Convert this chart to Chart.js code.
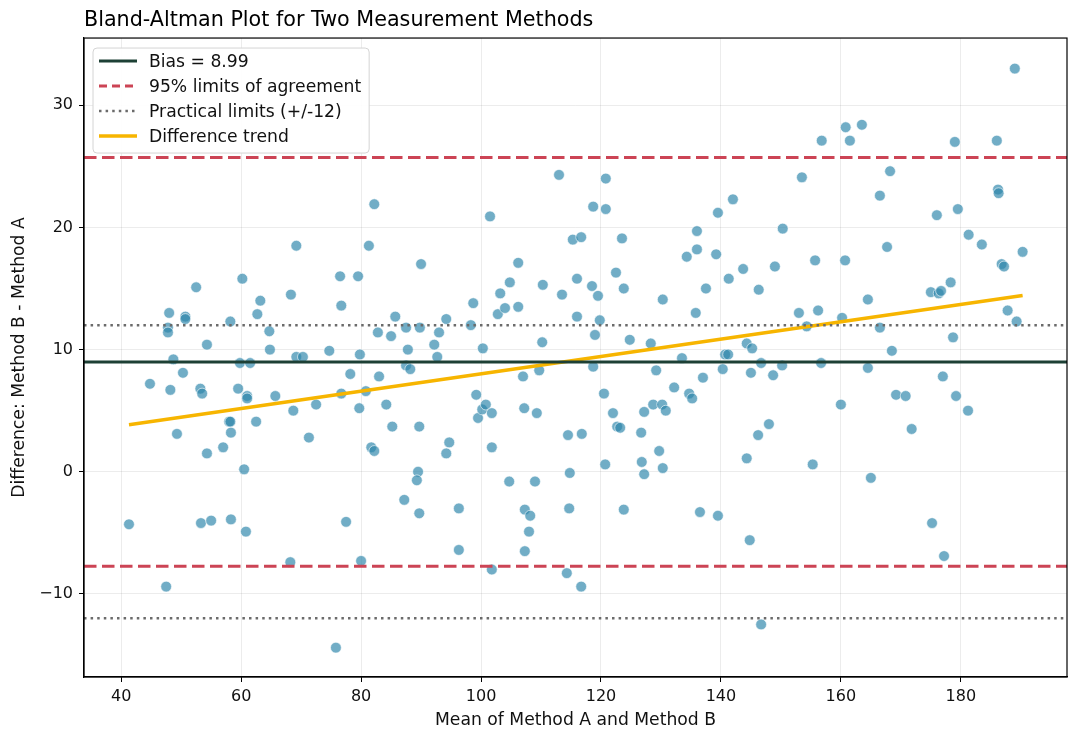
<!DOCTYPE html>
<html>
<head>
<meta charset="utf-8">
<script src="https://cdn.jsdelivr.net/npm/chart.js@4.4.1/dist/chart.umd.min.js"></script>
<style>
  html, body { margin: 0; padding: 0; background: #fff; }
  #wrap { width: 1080px; height: 742px; }
</style>
</head>
<body>
<div id="wrap"><canvas id="baChart" width="1080" height="742"></canvas></div>
<script>
// Mean of the two methods (x) and difference B - A (y)
const means = [
  41.3, 44.8, 47.5, 48.0, 47.8, 47.8, 48.2, 48.7, 49.3, 50.3,
  50.7, 50.7, 52.5, 53.2, 53.5, 53.3, 54.3, 54.3, 55.0, 57.0,
  58.0, 58.2, 58.2, 58.3, 58.3, 59.5, 59.8, 60.2, 60.5, 60.8,
  61.0, 61.0, 61.5, 62.5, 62.7, 63.2, 64.7, 64.8, 65.7, 68.2,
  68.3, 68.7, 69.2, 69.2, 70.3, 71.3, 72.5, 74.7, 76.5, 76.7,
  76.7, 75.8, 77.5, 78.2, 79.5, 79.8, 79.7, 80.0, 80.8, 81.3,
  81.7, 82.2, 82.2, 82.8, 83.0, 84.2, 85.2, 85.0, 85.7, 87.2,
  87.5, 87.5, 87.8, 88.2, 89.8, 89.5, 89.3, 90.0, 89.7, 89.7,
  92.2, 93.0, 92.7, 94.2, 94.2, 94.7, 96.3, 96.3, 98.3, 98.7,
  99.2, 99.5, 100.2, 100.3, 100.8, 101.8, 101.5, 101.8, 101.8, 102.8,
  103.2, 104.0, 104.7, 104.8, 106.2, 106.2, 107.0, 107.2, 107.3, 107.3,
  108.2, 108.0, 109.0, 109.3, 109.7, 110.2, 110.3, 113.0, 113.5, 114.3,
  114.7, 114.5, 114.8, 115.3, 116.0, 116.0, 116.7, 116.8, 116.7, 118.7,
  118.7, 118.5, 119.0, 119.5, 119.8, 120.5, 120.7, 120.8, 120.8, 122.0,
  122.5, 122.7, 123.2, 123.5, 123.8, 123.8, 124.8, 126.7, 126.8, 127.2,
  127.2, 128.3, 128.7, 129.2, 129.7, 130.2, 130.3, 130.3, 130.8, 132.2,
  133.5, 134.3, 134.7, 135.2, 135.8, 136.0, 136.0, 136.5, 137.0, 137.5,
  139.2, 139.5, 139.5, 140.3, 140.7, 141.2, 141.3, 142.0, 143.7, 144.3,
  144.3, 144.8, 145.0, 145.2, 146.2, 146.3, 146.7, 146.7, 148.0, 148.7,
  149.0, 150.2, 150.3, 153.0, 153.5, 154.3, 155.3, 155.7, 156.2, 156.8,
  156.7, 160.0, 160.2, 160.7, 160.8, 161.5, 163.5, 164.5, 164.5, 165.0,
  166.5, 166.5, 167.7, 168.2, 168.5, 169.2, 170.8, 171.8, 175.2, 175.0,
  176.0, 176.3, 176.7, 177.0, 177.2, 178.3, 178.7, 179.0, 179.2, 179.5,
  181.2, 181.3, 183.5, 186.0, 186.2, 186.3, 186.8, 187.2, 187.8, 189.0,
  189.3, 190.3
];
const diffs = [
  -4.3, 7.2, -9.4, 13.0, 11.8, 11.4, 6.7, 9.2, 3.1, 8.1,
  12.7, 12.5, 15.1, 6.8, 6.4, -4.2, 1.5, 10.4, -4.0, 2.0,
  4.1, 12.3, 4.1, 3.2, -3.9, 6.8, 8.9, 15.8, 0.2, -4.9,
  6.2, 6.0, 8.9, 4.1, 12.9, 14.0, 11.5, 10.0, 6.2, -7.4,
  14.5, 5.0, 9.4, 18.5, 9.4, 2.8, 5.5, 9.9, 16.0, 13.6,
  6.4, -14.4, -4.1, 8.0, 16.0, 9.6, 5.2, -7.3, 6.6, 18.5,
  2.0, 21.9, 1.7, 11.4, 7.8, 5.5, 3.7, 11.1, 12.7, -2.3,
  11.8, 8.7, 10.0, 8.4, 11.8, 0.0, -0.7, 17.0, 3.7, -3.4,
  10.4, 11.4, 9.4, 12.5, 1.5, 2.4, -3.0, -6.4, 12.0, 13.8,
  6.3, 4.4, 5.1, 10.1, 5.5, 4.8, 20.9, 2.0, -8.0, 12.9,
  14.6, 13.4, -0.8, 15.5, 13.5, 17.1, 7.8, 5.2, -3.1, -6.5,
  -3.6, -4.9, -0.8, 4.8, 8.3, 10.6, 15.3, 24.3, 14.5, -8.3,
  -3.0, 3.0, -0.1, 19.0, 12.7, 15.8, 19.2, 3.1, -9.4, 21.7,
  8.6, 15.2, 11.2, 14.4, 12.4, 6.4, 0.6, 24.0, 21.5, 4.8,
  16.3, 3.7, 3.6, 19.1, 15.0, -3.1, 10.8, 3.2, 0.8, -0.2,
  4.9, 10.5, 5.5, 8.3, 1.7, 5.5, 0.3, 14.1, 5.0, 6.9,
  9.3, 17.6, 6.4, 6.0, 13.0, 18.2, 19.7, -3.3, 7.7, 15.0,
  17.8, -3.6, 21.2, 8.4, 9.6, 9.6, 15.8, 22.3, 16.6, 1.1,
  10.5, -5.6, 8.1, 10.1, 3.0, 14.9, 8.9, -12.5, 3.9, 7.9,
  16.8, 8.7, 19.9, 13.0, 24.1, 11.9, 0.6, 17.3, 13.2, 27.1,
  8.9, 5.5, 12.6, 17.3, 28.2, 27.1, 28.4, 14.1, 8.5, -0.5,
  22.6, 11.8, 18.4, 24.6, 9.9, 6.3, 6.2, 3.5, -4.2, 14.7,
  21.0, 14.6, 14.8, 7.8, -6.9, 15.5, 11.0, 27.0, 6.2, 21.5,
  5.0, 19.4, 18.6, 27.1, 23.1, 22.8, 17.0, 16.8, 13.2, 33.0,
  12.3, 18.0
];

// reference lines
const biasValue = 8.99;
const loaValues = [25.72, -7.74];
const practicalValues = [12, -12];
const trendX = [41.3, 190.3];
const trendY = [3.85, 14.43];

const seriesLabels = ['Bias = 8.99', '95% limits of agreement', 'Practical limits (+/-12)', 'Difference trend'];
const xRange = [33.8, 197.7];
const yRange = [-16.8, 35.5];

const FONT = "'DejaVu Sans', 'Liberation Sans', sans-serif";
const colBias = '#1d4035';
const colLoa = '#cc4455';
const colPrac = '#6b6b6b';
const colTrend = '#f7b500';

Chart.defaults.font.family = FONT;
Chart.defaults.color = '#111';

function hline(y) {
  return [{x: xRange[0], y: y}, {x: xRange[1], y: y}];
}

const lineBase = {showLine: true, pointRadius: 0, fill: false, order: 1};

const datasets = [
  {
    label: 'points',
    data: means.map((m, i) => ({x: m, y: diffs[i]})),
    backgroundColor: 'rgba(46,134,171,0.68)',
    borderColor: 'rgba(255,255,255,0.85)',
    borderWidth: 0.7,
    pointRadius: 5.4,
    order: 10
  },
  Object.assign({label: seriesLabels[0], data: hline(biasValue), borderColor: colBias, borderWidth: 3}, lineBase),
  Object.assign({label: seriesLabels[1], data: hline(loaValues[0]), borderColor: colLoa, borderWidth: 3, borderDash: [12.5, 5.5]}, lineBase),
  Object.assign({label: '', data: hline(loaValues[1]), borderColor: colLoa, borderWidth: 3, borderDash: [12.5, 5.5]}, lineBase),
  Object.assign({label: seriesLabels[2], data: hline(practicalValues[0]), borderColor: colPrac, borderWidth: 2.5, borderDash: [2.5, 4.1]}, lineBase),
  Object.assign({label: '', data: hline(practicalValues[1]), borderColor: colPrac, borderWidth: 2.5, borderDash: [2.5, 4.1]}, lineBase),
  Object.assign({label: seriesLabels[3], data: trendX.map((x, i) => ({x: x, y: trendY[i]})), borderColor: colTrend, borderWidth: 3.4}, lineBase)
];

// legend entries (style of the sample line for each label)
const legendStyles = [
  {color: colBias, width: 3, dash: []},
  {color: colLoa, width: 3, dash: [8, 5]},
  {color: colPrac, width: 2.5, dash: [2.5, 4.1]},
  {color: colTrend, width: 3.4, dash: []}
];

// frame around the plot + legend box inside the plot (top-left)
const framePlugin = {
  id: 'frameAndLegend',
  afterDraw(chart) {
    const {ctx, chartArea: a} = chart;
    ctx.save();
    ctx.strokeStyle = '#000';
    ctx.lineWidth = 1.2;
    ctx.strokeRect(a.left, a.top, a.right - a.left, a.bottom - a.top);

    ctx.font = '17.2px ' + FONT;
    let maxW = 0;
    seriesLabels.forEach(t => { maxW = Math.max(maxW, ctx.measureText(t).width); });
    const bx = a.left + 9, by = a.top + 10;
    const bw = 56 + maxW + 8, bh = 105;
    ctx.beginPath();
    ctx.roundRect(bx, by, bw, bh, 4);
    ctx.fillStyle = 'rgba(255,255,255,0.9)';
    ctx.fill();
    ctx.strokeStyle = '#d4d4d4';
    ctx.lineWidth = 1;
    ctx.stroke();

    seriesLabels.forEach((t, i) => {
      const yy = by + 13 + i * 25;
      const s = legendStyles[i];
      ctx.beginPath();
      ctx.setLineDash(s.dash);
      ctx.strokeStyle = s.color;
      ctx.lineWidth = s.width;
      ctx.moveTo(bx + 6, yy);
      ctx.lineTo(bx + 44, yy);
      ctx.stroke();
      ctx.setLineDash([]);
      ctx.fillStyle = '#111';
      ctx.textBaseline = 'middle';
      ctx.textAlign = 'left';
      ctx.fillText(t, bx + 56, yy + 1);
    });
    ctx.restore();
  }
};

const minusFmt = v => (v < 0 ? '\u2212' + Math.abs(v) : String(v));

new Chart(document.getElementById('baChart').getContext('2d'), {
  type: 'scatter',
  data: {datasets: datasets},
  options: {
    responsive: false,
    animation: false,
    events: [],
    layout: {padding: {left: 0, right: 13, top: 0, bottom: 0}},
    plugins: {
      legend: {display: false},
      tooltip: {enabled: false},
      title: {
        display: true,
        text: 'Bland-Altman Plot for Two Measurement Methods',
        align: 'start',
        fullSize: false,
        color: '#000',
        font: {size: 20.7, weight: 'normal'},
        padding: {top: 8, bottom: 5.2}
      }
    },
    scales: {
      x: {
        type: 'linear',
        min: xRange[0],
        max: xRange[1],
        afterFit: s => { s.height = 65; },
        ticks: {stepSize: 20, includeBounds: false, padding: 5, color: '#111', font: {size: 16}},
        grid: {color: 'rgba(0,0,0,0.075)', tickColor: '#000', tickLength: 5, lineWidth: 1},
        border: {display: true, color: '#000', width: 1.2},
        title: {display: true, text: 'Mean of Method A and Method B', color: '#111', font: {size: 17.2}, padding: {top: 2, bottom: 11.5}}
      },
      y: {
        type: 'linear',
        min: yRange[0],
        max: yRange[1],
        afterFit: s => { s.width = 84; },
        ticks: {stepSize: 10, includeBounds: false, padding: 6, color: '#111', font: {size: 16}, callback: minusFmt},
        grid: {color: 'rgba(0,0,0,0.075)', tickColor: '#000', tickLength: 5, lineWidth: 1},
        border: {display: true, color: '#000', width: 1.2},
        title: {display: true, text: 'Difference: Method B - Method A', color: '#111', font: {size: 17.2}, padding: {top: 9.5, bottom: 0}}
      }
    }
  },
  plugins: [framePlugin]
});
</script>
</body>
</html>
